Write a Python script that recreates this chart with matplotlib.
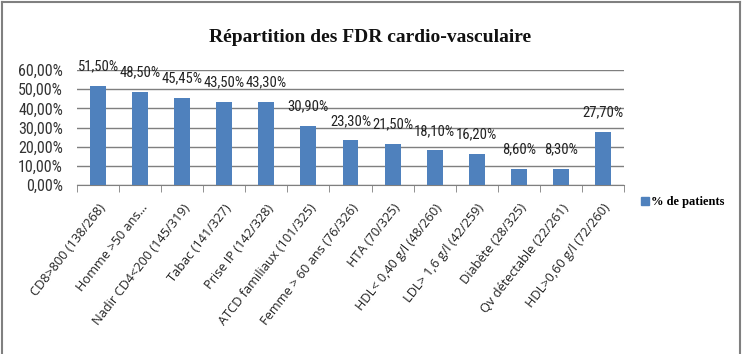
import matplotlib
matplotlib.use("Agg")
import matplotlib.pyplot as plt
from matplotlib.lines import Line2D
import numpy as np

categories = ["CD8>800 (138/268)", "Homme >50 ans...", "Nadir CD4<200 (145/319)",
              "Tabac (141/327)", "Prise IP (142/328)", "ATCD familiaux (101/325)",
              "Femme > 60 ans (76/326)", "HTA (70/325)", "HDL< 0,40 g/l (48/260)",
              "LDL> 1,6 g/l (42/259)", "Diabète (28/325)", "Qv détectable (22/261)",
              "HDL>0,60 g/l (72/260)"]
values = [51.50, 48.50, 45.45, 43.50, 43.30, 30.90, 23.30, 21.50, 18.10, 16.20, 8.60, 8.30, 27.70]
labels = ["51,50%", "48,50%", "45,45%", "43,50%", "43,30%", "30,90%", "23,30%",
          "21,50%", "18,10%", "16,20%", "8,60%", "8,30%", "27,70%"]
yticks = [0, 10, 20, 30, 40, 50, 60]
ytick_labels = ["0,00%", "10,00%", "20,00%", "30,00%", "40,00%", "50,00%", "60,00%"]

narrow = ["Roboto Condensed", "Liberation Sans Narrow", "DejaVu Sans Condensed", "Liberation Sans", "DejaVu Sans"]
serif = ["Liberation Serif", "DejaVu Serif"]

fig = plt.figure(figsize=(7.42, 3.54), dpi=100)
ax = fig.add_axes([77/742, 1-185/354, (624-77)/742, (185-70)/354])

x = np.arange(len(categories))
ax.bar(x, values, width=0.38, color="#4F81BD", zorder=3)
for xi, v, lab in zip(x, values, labels):
    ax.annotate(lab, (xi, v), xytext=(0, 9), textcoords="offset points",
                ha="center", va="bottom", fontsize=10.5, family=narrow, color="#222222")

ax.set_xlim(-0.5, len(categories) - 0.5)
ax.set_ylim(0, 60)
ax.set_yticks(yticks)
ax.set_yticklabels(ytick_labels, fontsize=11.5, family=narrow, color="#333333")
ax.yaxis.grid(True, color="#7f7f7f", linewidth=1.0, zorder=0)
ax.tick_params(axis="y", length=0, pad=10)

ax.set_xticks(x)
ax.set_xticklabels(categories, rotation=52, ha="right", va="top", rotation_mode="anchor",
                   fontsize=9.2, family=["Open Sans", "DejaVu Sans"], color="#222222")
ax.tick_params(axis="x", length=0, pad=12)
ax.set_xticks(np.arange(-0.5, len(categories)), minor=True)
ax.tick_params(axis="x", which="minor", length=5, color="#7f7f7f")

for s in ["top", "right", "left"]:
    ax.spines[s].set_visible(False)
ax.spines["bottom"].set_color("#7f7f7f")

fig.text(370/742, 1-37/354, "Répartition des FDR cardio-vasculaire", ha="center", va="center",
         fontsize=14, fontweight="bold", family=serif, color="#111111")

handle = Line2D([], [], marker="s", linestyle="none", color="#4F81BD", markersize=6)
fig.legend([handle], ["% de patients"], loc="center left", bbox_to_anchor=(640/742, 1-202/354),
           frameon=False, handletextpad=0.1, handlelength=0.8, borderpad=0, borderaxespad=0,
           prop={"family": serif, "size": 9, "weight": "bold"})

# outer frame
fig.add_artist(Line2D([2/742, 2/742], [0, 1-2/354], transform=fig.transFigure, color="#808080", lw=1.5))
fig.add_artist(Line2D([2/742, 740/742], [1-2/354, 1-2/354], transform=fig.transFigure, color="#808080", lw=1.5))
fig.add_artist(Line2D([740/742, 740/742], [0, 1-2/354], transform=fig.transFigure, color="#808080", lw=1.5))

fig.savefig("out.png", dpi=100)
